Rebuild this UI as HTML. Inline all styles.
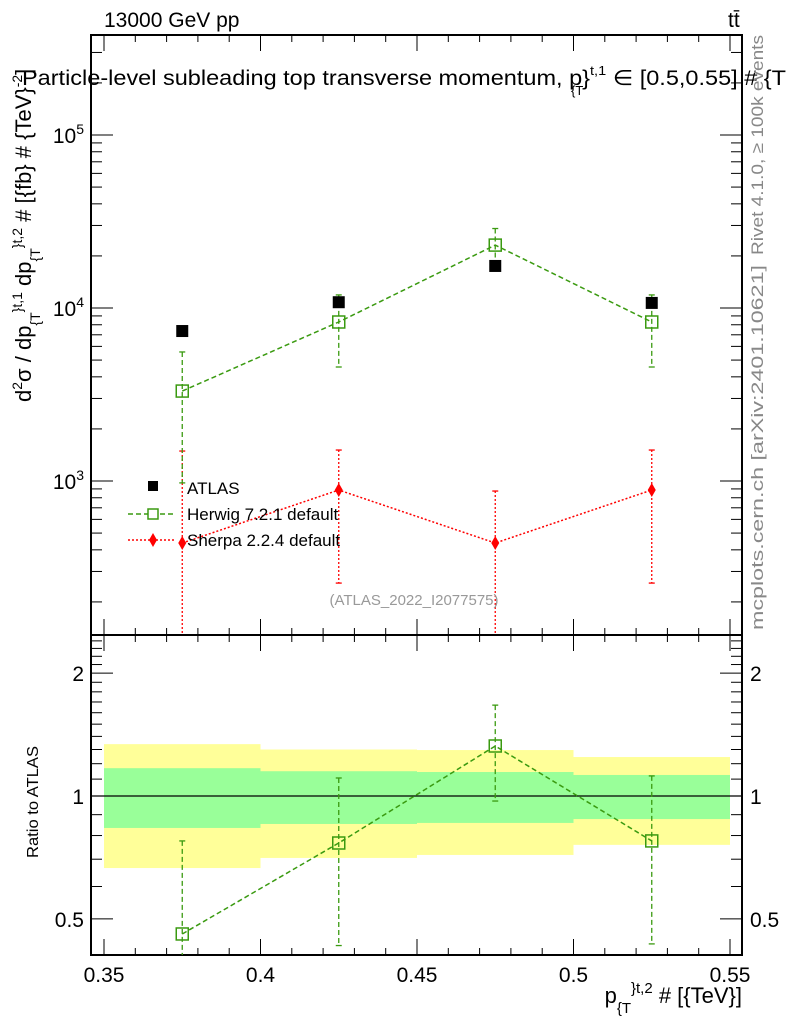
<!DOCTYPE html>
<html><head><meta charset="utf-8"><style>
html,body{margin:0;padding:0;background:#fff;}
svg{display:block;font-family:"Liberation Sans","DejaVu Sans",sans-serif;}
</style></head><body>
<svg id="chart" width="786" height="1024" viewBox="0 0 786 1024" xmlns="http://www.w3.org/2000/svg">
<g id="bands"></g>
<g id="axes"></g>
<g id="series"></g>
<text x="104" y="27" font-size="21">13000 GeV pp</text>
<text x="728" y="27" font-size="21">tt̄</text>
<text x="22" y="85" font-size="21" textLength="764" lengthAdjust="spacingAndGlyphs">Particle-level subleading top transverse momentum, p}<tspan font-size="13" dy="-10">t,1</tspan><tspan dy="10"> ∈ [0.5,0.55] # {T</tspan></text>
<text font-size="13" x="571" y="95">{T</text>
<text transform="translate(31,402) rotate(-90)" font-size="22">d<tspan font-size="14" dy="-9">2</tspan><tspan dy="9">σ / dp</tspan><tspan font-size="14" dy="9">{T</tspan><tspan font-size="14" dy="-18">}</tspan><tspan font-size="14">t,1</tspan><tspan dy="9"> dp</tspan><tspan font-size="14" dy="9">{T</tspan><tspan font-size="14" dy="-18">}</tspan><tspan font-size="14">t,2</tspan><tspan dy="9"> # [{fb} # {TeV}</tspan><tspan font-size="14" dy="-9">-2</tspan><tspan dy="9">]</tspan></text>
<text transform="translate(38,858) rotate(-90)" font-size="16" textLength="112" lengthAdjust="spacingAndGlyphs">Ratio to ATLAS</text>
<text transform="translate(763,255) rotate(-90)" font-size="17" fill="#888" textLength="220" lengthAdjust="spacingAndGlyphs">Rivet 4.1.0, ≥ 100k events</text>
<text transform="translate(763,630) rotate(-90)" font-size="17" fill="#888" textLength="365" lengthAdjust="spacingAndGlyphs">mcplots.cern.ch [arXiv:2401.10621]</text>
<text x="414" y="605" font-size="15" fill="#999" text-anchor="middle">(ATLAS_2022_I2077575)</text>
<text x="742" y="1003" font-size="22" text-anchor="end">p<tspan font-size="15" dy="10">{T</tspan><tspan font-size="15" dy="-20">}</tspan><tspan font-size="15">t,2</tspan><tspan dy="10"> # [{TeV}]</tspan></text>
<g>
<rect x="148" y="481" width="10" height="10" fill="#000"/>
<text x="187" y="494" font-size="17">ATLAS</text>
<line x1="128" y1="514" x2="176" y2="514" stroke="#3a9a10" stroke-width="1.5" stroke-dasharray="5,3"/>
<rect x="148" y="509" width="10" height="10" fill="#fff" stroke="#3a9a10" stroke-width="1.5"/>
<text x="187" y="520" font-size="17">Herwig 7.2.1 default</text>
<line x1="128" y1="540" x2="176" y2="540" stroke="#f00" stroke-width="1.5" stroke-dasharray="2,2"/>
<polygon points="153,533 157,540 153,547 149,540" fill="#f00"/>
<text x="187" y="546" font-size="17">Sherpa 2.2.4 default</text>
</g>
</svg>
<script>
const binEdges=[0.35,0.40,0.45,0.50,0.55];
const binCenters=[0.375,0.425,0.475,0.525];
const atlasValues=[7360,10800,17500,10700];
const herwigValues=[3310,8300,23100,8300];
const herwigUp=[5570,11900,28800,11900];
const herwigDown=[975,4560,17300,4560];
const sherpaValues=[438,887,438,887];
const sherpaUp=[1490,1510,875,1510];
const sherpaDown=[10,257,10,257];
const bandYellowUp=[1.34,1.30,1.296,1.246];
const bandYellowDown=[0.666,0.705,0.717,0.759];
const bandGreenUp=[1.17,1.15,1.145,1.126];
const bandGreenDown=[0.835,0.854,0.859,0.878];
const ratioHerwig=[0.459,0.767,1.326,0.776];
const ratioHerwigUp=[0.776,1.107,1.67,1.12];
const ratioHerwigDown=[0.1,0.43,0.972,0.434];
const xTicks=[0.35,0.4,0.45,0.5,0.55];
const xTickLabels=["0.35","0.4","0.45","0.5","0.55"];
const yTicks=[1000,10000,100000];
const yTickExp=["3","4","5"];
const rTicks=[0.5,1,2];
const rTickLabels=["0.5","1","2"];

const NS="http://www.w3.org/2000/svg";
const L=91,R=742,T=35,M=635,B=955;
const sx=v=>104+(v-0.35)/0.2*626;
const sy=v=>308-(Math.log10(v)-4)*173;
const sr=v=>796-Math.log10(v)*408;
const clampM=y=>Math.max(T,Math.min(M,y));
const clampR=y=>Math.max(M,Math.min(B,y));
function mk(parent,tag,attrs){const e=document.createElementNS(NS,tag);for(const k in attrs)e.setAttribute(k,attrs[k]);document.getElementById(parent).appendChild(e);return e;}

for(let i=0;i<4;i++){
 const x0=sx(binEdges[i]),x1=sx(binEdges[i+1]);
 let e=mk('bands','rect',{x:x0,y:sr(bandYellowUp[i]),width:x1-x0,height:sr(bandYellowDown[i])-sr(bandYellowUp[i]),fill:'#ffff99'});
 
 
 e=mk('bands','rect',{x:x0,y:sr(bandGreenUp[i]),width:x1-x0,height:sr(bandGreenDown[i])-sr(bandGreenUp[i]),fill:'#99ff99'});
 
 
}
let f=mk('axes','rect',{x:L,y:T,width:R-L,height:M-T,fill:'none',stroke:'#000','stroke-width':2});


f=mk('axes','rect',{x:L,y:M,width:R-L,height:B-M,fill:'none',stroke:'#000','stroke-width':2});


let ln=mk('axes','line',{x1:L,x2:R,y1:sr(1),y2:sr(1),stroke:'#000','stroke-width':1.3});


for(let v=0.35;v<=0.5501;v+=0.01){
 const x=sx(v);const maj=Math.abs(v*20-Math.round(v*20))<1e-6;const h=maj?16:7;
 for(const [y0,d] of [[T,1],[M,-1],[M,1],[B,-1]]){
  const t=mk('axes','line',{x1:x,x2:x,y1:y0,y2:y0+d*h,stroke:'#000','stroke-width':1});
  
  
 }
}
xTicks.forEach((v,i)=>{const t=mk('axes','text',{x:sx(v),y:982,'font-size':21,'text-anchor':'middle'});t.textContent=xTickLabels[i];
 
 });
for(let d=2;d<=5;d++){for(let m=1;m<10;m++){const v=m*Math.pow(10,d);const y=sy(v);if(y<T||y>M)continue;const h=m==1?22:11;
 for(const [x0,s] of [[L,1],[R,-1]]){const t=mk('axes','line',{x1:x0,x2:x0+s*h,y1:y,y2:y,stroke:'#000','stroke-width':1});
 
 }}}
yTicks.forEach((v,i)=>{const t=mk('axes','text',{x:84,y:sy(v)+8,'font-size':21,'text-anchor':'end'});t.innerHTML='10<tspan font-size="14" dy="-9">'+yTickExp[i]+'</tspan>';
 
 });
for(let v=0.4;v<=2.5;v+=0.1){const y=sr(v);if(y<M||y>B)continue;const r=Math.round(v*10);const maj=(r==5||r==10||r==20);const h=maj?22:11;
 for(const [x0,s] of [[L,1],[R,-1]]){const t=mk('axes','line',{x1:x0,x2:x0+s*h,y1:y,y2:y,stroke:'#000','stroke-width':1});
 
 }}
rTicks.forEach((v,i)=>{for(const [x,a] of [[84,'end'],[750,'start']]){const t=mk('axes','text',{x:x,y:sr(v)+8,'font-size':21,'text-anchor':a});t.textContent=rTickLabels[i];
 
 }});

const G='#3a9a10';
function err(x,y1,y2,col,dash,name,clamp){const a=clamp(y1),b=clamp(y2);
 const e=mk('series','line',{x1:x,x2:x,y1:a,y2:b,stroke:col,'stroke-width':1.3,'stroke-dasharray':dash});
 
 
 for(const [yy,orig] of [[a,y1],[b,y2]]){if(yy!==orig)continue;const c=mk('series','line',{x1:x-3,x2:x+3,y1:yy,y2:yy,stroke:col,'stroke-width':1.3});
 
 }}
let pts=binCenters.map((c,i)=>sx(c)+','+sy(sherpaValues[i])).join(' ');
let pl=mk('series','polyline',{points:pts,fill:'none',stroke:'#f00','stroke-width':1.5,'stroke-dasharray':'2,2'});


pts=binCenters.map((c,i)=>sx(c)+','+sy(herwigValues[i])).join(' ');
pl=mk('series','polyline',{points:pts,fill:'none',stroke:G,'stroke-width':1.5,'stroke-dasharray':'5,3'});


binCenters.forEach((c,i)=>{const x=sx(c);
 err(x,sy(sherpaUp[i]),sy(sherpaDown[i]),'#f00','2,2','sherpa-error',clampM);
 err(x,sy(herwigUp[i]),sy(herwigDown[i]),G,'5,3','herwig-error',clampM);
 let p=mk('series','polygon',{points:`${x},${sy(sherpaValues[i])-7} ${x+4},${sy(sherpaValues[i])} ${x},${sy(sherpaValues[i])+7} ${x-4},${sy(sherpaValues[i])}`,fill:'#f00'});
 
 
 p=mk('series','rect',{x:x-6,y:sy(atlasValues[i])-6,width:12,height:12,fill:'#000'});
 
 
 p=mk('series','rect',{x:x-6,y:sy(herwigValues[i])-6,width:12,height:12,fill:'none',stroke:G,'stroke-width':1.5});
 
 
});
pts=binCenters.map((c,i)=>sx(c)+','+sr(ratioHerwig[i])).join(' ');
pl=mk('series','polyline',{points:pts,fill:'none',stroke:G,'stroke-width':1.5,'stroke-dasharray':'5,3'});


binCenters.forEach((c,i)=>{const x=sx(c);
 err(x,sr(ratioHerwigUp[i]),sr(ratioHerwigDown[i]),G,'5,3','ratio-herwig-error',clampR);
 const p=mk('series','rect',{x:x-6,y:sr(ratioHerwig[i])-6,width:12,height:12,fill:'none',stroke:G,'stroke-width':1.5});
 
 
});
</script>
</body></html>
